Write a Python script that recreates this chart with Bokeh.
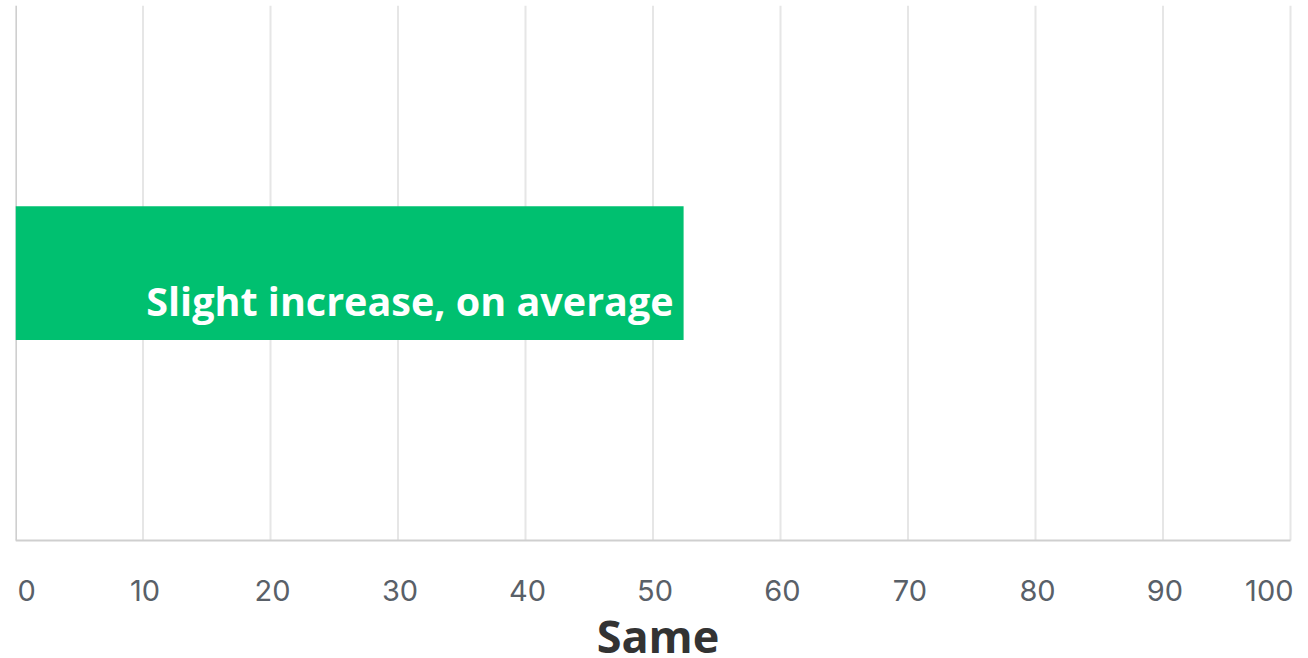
from bokeh.plotting import figure
from bokeh.models import Range1d
from bokeh.core.properties import value
from bokeh.embed import file_html
from bokeh.resources import INLINE

# Data
categories = ["Same"]
values = [52.4]
bar_labels = ["Slight increase, on average"]
tick_values = [0, 10, 20, 30, 40, 50, 60, 70, 80, 90, 100]
tick_labels = ["0", "10", "20", "30", "40", "50", "60", "70", "80", "90", "100"]

GREEN = "#00c070"
GRID = "#e6e6e6"
AXIS = "#cfcfcf"
TICK_TEXT = "#596068"
TITLE_TEXT = "#333333"

WIDTH, HEIGHT = 1308, 658
LEFT, TOP = 15, 5
PLOT_W = 1275         # width of the gridded band in pixels
PLOT_H = 535          # height of the gridded band in pixels
FRAME_W = WIDTH - LEFT
FRAME_H = HEIGHT - TOP

# one band per category, centred on its index; the frame runs on below and to
# the right of the band so that tick labels and the title can sit inside it
ys = list(range(len(categories)))
band_lo, band_hi = -0.5, len(categories) - 0.5
span_y = band_hi - band_lo
y_lo = band_hi - span_y * FRAME_H / PLOT_H
x_lo = tick_values[0]
x_hi = x_lo + (tick_values[-1] - tick_values[0]) * FRAME_W / PLOT_W

p = figure(
    width=WIDTH, height=HEIGHT,
    x_range=Range1d(x_lo, x_hi),
    y_range=Range1d(y_lo, band_hi),
    output_backend="svg", toolbar_location=None,
    min_border_left=LEFT, min_border_right=0,
    min_border_top=TOP, min_border_bottom=0,
)
p.outline_line_color = None
p.background_fill_color = "white"
p.border_fill_color = "white"
p.xaxis.visible = False
p.yaxis.visible = False
p.xgrid.grid_line_color = None
p.ygrid.grid_line_color = None

# vertical grid lines over the band
p.segment(x0=tick_values, x1=tick_values,
          y0=[band_lo] * len(tick_values), y1=[band_hi] * len(tick_values),
          line_color=GRID, line_width=2)
# axis lines
p.segment(x0=[tick_values[0]], x1=[tick_values[-1]], y0=[band_lo], y1=[band_lo],
          line_color=AXIS, line_width=2)
p.segment(x0=[tick_values[0]], x1=[tick_values[0]], y0=[band_lo], y1=[band_hi],
          line_color=AXIS, line_width=3)

p.hbar(y=ys, right=values, left=0, height=0.25 * span_y / len(categories),
       fill_color=GREEN, line_color=None)

p.text(x=values, y=ys, text=bar_labels,
       text_align="right", text_baseline="alphabetic",
       x_offset=-10, y_offset=28,
       text_font=value("Open Sans"), text_font_style="bold",
       text_font_size="39.5px", text_color="white")

# tick labels: first flush left, last flush right, the rest centred
last = len(tick_values) - 1
aligns = ["left" if i == 0 else ("right" if i == last else "center") for i in range(last + 1)]
offsets = [2 if i == 0 else (3 if i == last else 2) for i in range(last + 1)]
p.text(x=tick_values, y=[band_lo] * len(tick_values), text=tick_labels,
       text_align=aligns, text_baseline="alphabetic",
       x_offset=offsets, y_offset=50,
       text_font=value("Inter"), text_font_size="29px", text_color=TICK_TEXT)

# axis title
p.text(x=[(tick_values[0] + tick_values[-1]) / 2], y=[band_lo], text=[categories[0]],
       text_align="center", text_baseline="alphabetic",
       x_offset=5, y_offset=95,
       text_font=value("Open Sans"), text_font_style="bold",
       text_font_size="45px", text_color=TITLE_TEXT)

open("out.html", "w").write(file_html(p, INLINE))
